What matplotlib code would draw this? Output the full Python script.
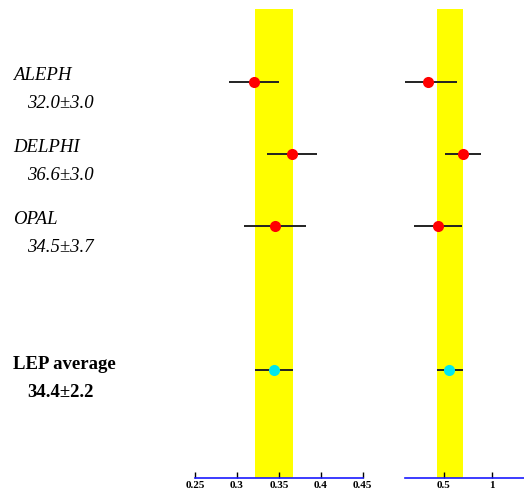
import matplotlib
matplotlib.use("Agg")
import matplotlib.pyplot as plt

plt.rcParams['font.family'] = ['Liberation Serif', 'DejaVu Serif']

# ---- data ----
experiments = ["ALEPH", "DELPHI", "OPAL"]
exp_labels = ["32.0\u00b13.0", "36.6\u00b13.0", "34.5\u00b13.7"]
avg_name = "LEP average"
avg_label = "34.4\u00b12.2"

# left panel values (symmetric errors)
left_vals = [0.320, 0.366, 0.345]
left_errs = [0.030, 0.030, 0.037]
left_avg = 0.344
left_avg_err = 0.0225

# right panel values (asymmetric errors)
right_vals = [0.338, 0.700, 0.441]
right_err_lo = [0.241, 0.190, 0.251]
right_err_hi = [0.304, 0.190, 0.245]
right_avg = 0.559
right_avg_err_lo = 0.131
right_avg_err_hi = 0.136

left_ticks = [0.25, 0.3, 0.35, 0.4, 0.45]
left_ticklabels = ["0.25", "0.3", "0.35", "0.4", "0.45"]
right_ticks = [0.5, 1.0]
right_ticklabels = ["0.5", "1"]

exp_rows = [0, 1, 2]
avg_row = 4

# ---- layout ----
W, H = 524, 496
fig = plt.figure(figsize=(W / 100, H / 100), dpi=100)


def rect(x0, x1, y0, y1):
    return [x0 / W, 1 - y1 / H, (x1 - x0) / W, (y1 - y0) / H]


axL = fig.add_axes(rect(195, 362.7, 9, 478))
axR = fig.add_axes(rect(405, 524, 9, 478))

row_top_px, row_step_px = 81.5, 72.0
ylim = ((478 - row_top_px) / row_step_px, -(row_top_px - 9) / row_step_px)

for ax, xlim in [(axL, (0.25, 0.45)), (axR, (0.1, 0.1 + 119 / 96.7))]:
    ax.set_xlim(*xlim)
    ax.set_ylim(*ylim)
    for s in ("top", "left", "right"):
        ax.spines[s].set_visible(False)
    ax.spines["bottom"].set_color("#1a1aff")
    ax.spines["bottom"].set_linewidth(1.2)
    ax.set_yticks([])
    ax.tick_params(axis="x", direction="in", length=4, width=1,
                   color="black", pad=2.5, labelsize=8)
    ax.patch.set_alpha(0)

# yellow bands
axL.axvspan(left_avg - left_avg_err, left_avg + left_avg_err,
            color="#ffff00", zorder=0, lw=0)
axR.axvspan(right_avg - right_avg_err_lo, right_avg + right_avg_err_hi,
            color="#ffff00", zorder=0, lw=0)

MS = 8
# left error bars
axL.errorbar(left_vals, exp_rows, xerr=left_errs, fmt="none",
             ecolor="#222222", elinewidth=1.4, capsize=0, zorder=2)
axL.plot(left_vals, exp_rows, "o", color="#ff0000", ms=MS, mew=0, zorder=3)
axL.errorbar([left_avg], [avg_row], xerr=[left_avg_err], fmt="none",
             ecolor="#222222", elinewidth=1.4, capsize=0, zorder=2)
axL.plot([left_avg], [avg_row], "o", color="#00e8f0", ms=MS, mew=0, zorder=3)

# right error bars
axR.errorbar(right_vals, exp_rows, xerr=[right_err_lo, right_err_hi],
             fmt="none", ecolor="#222222", elinewidth=1.4, capsize=0, zorder=2)
axR.plot(right_vals, exp_rows, "o", color="#ff0000", ms=MS, mew=0, zorder=3)
axR.errorbar([right_avg], [avg_row], xerr=[[right_avg_err_lo], [right_avg_err_hi]],
             fmt="none", ecolor="#222222", elinewidth=1.4, capsize=0, zorder=2)
axR.plot([right_avg], [avg_row], "o", color="#00e8f0", ms=MS, mew=0, zorder=3)

axL.set_xticks(left_ticks)
axL.set_xticklabels(left_ticklabels, fontweight="bold")
axR.set_xticks(right_ticks)
axR.set_xticklabels(right_ticklabels, fontweight="bold")

# labels
def row_px(r):
    return row_top_px + row_step_px * r


for name, lab, r in zip(experiments, exp_labels, exp_rows):
    y = row_px(r)
    fig.text(13 / W, 1 - (y - 5.5) / H, name, style="italic",
             fontsize=13.5, va="center", ha="left")
    fig.text(27 / W, 1 - (y + 22) / H, lab, style="italic",
             fontsize=13.5, va="center", ha="left")

y = row_px(avg_row)
fig.text(13 / W, 1 - (y - 5) / H, avg_name, fontweight="bold",
         fontsize=13.5, va="center", ha="left")
fig.text(27 / W, 1 - (y + 23) / H, avg_label, fontweight="bold",
         fontsize=13.5, va="center", ha="left")

fig.savefig("out.png", dpi=100)
